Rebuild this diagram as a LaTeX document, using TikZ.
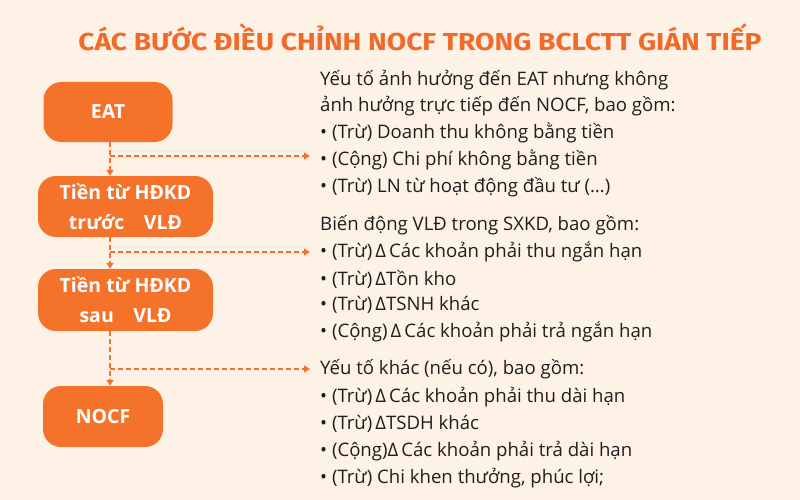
\documentclass[tikz,border=0pt]{standalone}
\usepackage{fontspec}
\setmainfont{Open Sans}
\newfontfamily\titlefont{Fira Sans}
\usetikzlibrary{arrows.meta}
\definecolor{bgc}{HTML}{FEF2E7}
\definecolor{orng}{HTML}{F5722B}
\definecolor{ttl}{HTML}{F26A2A}
\definecolor{txt}{HTML}{1E1E1E}
\begin{document}
\begin{tikzpicture}[x=1pt,y=-1pt,
  box/.style={draw=none,fill=orng,rounded corners=18pt,text=white,font=\fontsize{19.5}{30}\selectfont\bfseries,align=center,inner sep=0pt},
  link/.style={draw=orng,line width=1.8pt,dash pattern=on 5pt off 3pt,-{Triangle[width=7pt,length=6pt]}},
  line/.style={anchor=west,text=txt,font=\fontsize{18.6}{22}\selectfont,inner sep=0pt}]
\fill[bgc] (0,0) rectangle (800,500);
\useasboundingbox (0,0) rectangle (800,500);
\node[text=ttl,font=\titlefont\bfseries\fontsize{24.5}{28}\selectfont,xscale=1.15] (title) at (420,37) {CÁC BƯỚC ĐIỀU CHỈNH NOCF TRONG BCLCTT GIÁN TIẾP};
\node[box,minimum width=129pt,minimum height=60pt] (eat) at (108,112) {EAT};
\node[box,minimum width=175pt,minimum height=61pt] (b2) at (125.5,206.5) {Tiền từ HĐKD\\trước\quad VLĐ};
\node[box,minimum width=175pt,minimum height=62pt] (b3) at (125.5,300) {Tiền từ HĐKD\\sau\quad VLĐ};
\node[box,minimum width=120pt,minimum height=61pt] (nocf) at (103,416.5) {NOCF};
\coordinate (j1) at (110,156);
\coordinate (j2) at (110,252);
\coordinate (j3) at (110,369);
\coordinate (e1) at (310,156);
\coordinate (e2) at (310,252);
\coordinate (e3) at (310,369);
\draw[link] (eat.south -| j1) -- (b2.north -| j1);
\draw[link] (j1) -- (e1);
\draw[link] (b2.south -| j2) -- (b3.north -| j2);
\draw[link] (j2) -- (e2);
\draw[link] (b3.south -| j3) -- (nocf.north -| j3);
\draw[link] (j3) -- (e3);
\node[line] (t1) at (320,80) {Yếu tố ảnh hưởng đến EAT nhưng không};
\node[line] (t2) at (320,106) {ảnh hưởng trực tiếp đến NOCF, bao gồm:};
\node[line] (t3) at (320,133) {• (Trừ) Doanh thu không bằng tiền};
\node[line] (t4) at (320,160) {• (Cộng) Chi phí không bằng tiền};
\node[line] (t5) at (320,187) {• (Trừ) LN từ hoạt động đầu tư (…)};
\node[line] (t6) at (320,225) {Biến động VLĐ trong SXKD, bao gồm:};
\node[line] (t7) at (320,252) {• (Trừ)\,Δ\,Các khoản phải thu ngắn hạn};
\node[line] (t8) at (320,279) {• (Trừ)\,ΔTồn kho};
\node[line] (t9) at (320,305) {• (Trừ)\,ΔTSNH khác};
\node[line] (t10) at (320,332) {• (Cộng)\,Δ\,Các khoản phải trả ngắn hạn};
\node[line] (t11) at (320,369) {Yếu tố khác (nếu có), bao gồm:};
\node[line] (t12) at (320,397) {• (Trừ)\,Δ\,Các khoản phải thu dài hạn};
\node[line] (t13) at (320,424) {• (Trừ)\,ΔTSDH khác};
\node[line] (t14) at (320,451) {• (Cộng)Δ\,Các khoản phải trả dài hạn};
\node[line] (t15) at (320,478) {• (Trừ) Chi khen thưởng, phúc lợi;};
\end{tikzpicture}
\end{document}
